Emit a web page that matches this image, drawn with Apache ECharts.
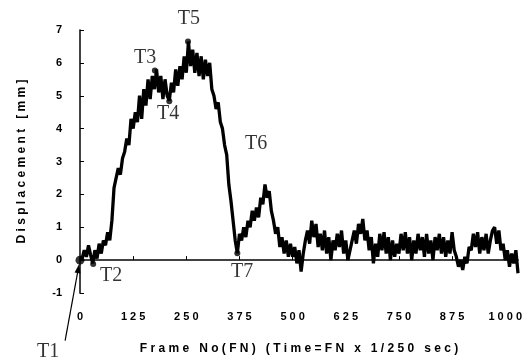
<!DOCTYPE html>
<html>
<head>
<meta charset="utf-8">
<script src="https://cdn.jsdelivr.net/npm/echarts@6/dist/echarts.min.js"></script>
<style>
  html, body { margin: 0; padding: 0; background: #fff; }
  #chart { width: 531px; height: 361px; }
</style>
</head>
<body>
<div id="chart"></div>
<script>
var frameStep = 5;
var displacement = [
  0, 0.05, 0.3, 0.1, 0.45, 0.15,
  -0.1, 0.3, 0.05, 0.5, 0.2, 0.6,
  0.45, 0.85, 0.6, 1.2,
  2.2, 2.5, 2.8, 2.6,
  3.1, 3.3, 3.7, 3.5,
  4.3, 4.0, 4.5, 4.2,
  5.0, 4.3, 5.2, 4.7,
  5.5, 4.9, 5.6, 5.2,
  5.8, 5.1, 5.6, 4.9,
  5.5, 5.0, 4.85, 5.4,
  5.1, 5.8, 5.3, 5.9,
  5.5, 6.2, 5.7, 6.65,
  5.9, 6.4, 5.7, 6.3,
  5.6, 6.2, 5.5, 6.1,
  5.6, 6.0, 5.2, 5.0,
  4.6, 4.8, 4.2, 4.0,
  3.5, 3.2, 2.3, 1.8,
  1.2, 0.6, 0.21, 0.8,
  0.6, 1.0, 0.7, 1.2,
  1.0, 1.5, 1.2, 1.6,
  1.3, 1.9, 1.7, 2.3,
  1.9, 2.1, 1.5, 1.2,
  0.8, 1.0, 0.4, 0.7,
  0.2, 0.6, 0.1, 0.5,
  0.1, 0.4, -0.1, 0.3,
  -0.35, 0.2, 0.6, 0.9,
  0.5, 1.2, 0.7, 1.1,
  0.4, 0.8, 0.3, 0.9,
  0.2, 0.7, 0.0, 0.6,
  0.3, 0.8, 0.4, 0.9,
  0.2, 0.6, 0.0, 0.3,
  0.6, 0.9, 0.5, 1.1,
  0.8, 1.25, 0.6, 0.9,
  0.3, 0.7, -0.1, 0.5,
  0.1, 0.8, 0.3, 0.85,
  0.2, 0.7, 0.0, 0.6,
  0.1, 0.5, 0.2, 0.8,
  0.3, 0.85, 0.2, 0.7,
  0.0, 0.6, 0.2, 0.8,
  0.3, 0.7, 0.1, 0.8,
  0.2, 0.6, 0.0, 0.7,
  0.3, 0.8, 0.2, 0.7,
  0.1, 0.6, 0.2, 0.85,
  0.3, 0.1, -0.2, 0.0,
  -0.3, 0.1, -0.1, 0.4,
  0.3, 0.8, 0.4, 0.85,
  0.2, 0.7, 0.3, 0.8,
  0.2, 0.6, 0.9, 1.0,
  0.5, 0.9, 0.3, 0.5,
  0.0, 0.3, -0.2, 0.2,
  -0.1, 0.3, -0.4
];

// event points (dots)
var markerNames = ["T1", "T2", "T3", "T4", "T5", "T7"];
var markerFrames = [0, 31, 176, 210, 254, 370];
var markerValues = [0, -0.12, 5.77, 4.83, 6.65, 0.21];

// where the T labels sit (data coords)
var tagNames = ["T1", "T2", "T3", "T4", "T5", "T6", "T7"];
var tagFrames = [-75, 73, 153, 207, 256, 414, 381];
var tagValues = [-2.8, -0.49, 6.17, 4.44, 7.35, 3.53, -0.36];

// arrow from the T1 label to the first point
var arrowFrom = [-35, -2.45];
var arrowTo = [-2, -0.12];

var xName = "Frame No(FN) (Time=FN x 1/250 sec)";
var yName = "Displacement [mm]";

function spaced(s) {
  return String(s).split("").join(" ");
}

var lineData = displacement.map(function (v, i) {
  return [i * frameStep, v];
});
var markerData = markerNames.map(function (n, i) {
  return { name: n, value: [markerFrames[i], markerValues[i]], symbolSize: i === 0 ? 9 : 6 };
});
var tagData = tagNames.map(function (n, i) {
  return { name: n, value: [tagFrames[i], tagValues[i]] };
});

var axisFont = { color: "#000", fontFamily: "Liberation Sans", fontWeight: "bold", fontSize: 11 };
var nameFont = { color: "#000", fontFamily: "Liberation Sans", fontWeight: "bold", fontSize: 12 };

var myChart = echarts.init(document.getElementById("chart"));
var option = {
  animation: false,
  backgroundColor: "#fff",
  grid: { left: 80, top: 30, right: 13, bottom: 68 },
  xAxis: [
    {
      type: "value",
      min: 0,
      max: 1030,
      interval: 125,
      name: spaced(xName),
      nameLocation: "middle",
      nameGap: 50,
      nameTextStyle: nameFont,
      axisLine: { lineStyle: { color: "#000", width: 1.5 } },
      axisTick: { inside: true, length: 4, lineStyle: { color: "#000" } },
      axisLabel: Object.assign({ margin: 18, showMaxLabel: false, formatter: function (v) { return spaced(v); } }, axisFont),
      splitLine: { show: false }
    },
    {
      type: "value", position: "top", min: 0, max: 1030,
      axisLine: { show: true, lineStyle: { color: "#444", type: "dotted", width: 1.5 } },
      axisTick: { show: false }, axisLabel: { show: false }, splitLine: { show: false }
    }
  ],
  yAxis: [
    {
      type: "value",
      min: -1,
      max: 7,
      interval: 1,
      name: spaced(yName),
      nameLocation: "middle",
      nameGap: 52,
      nameTextStyle: nameFont,
      axisLine: { show: true, lineStyle: { color: "#000", width: 1.5 } },
      axisTick: { show: true, inside: true, length: 4, lineStyle: { color: "#000" } },
      axisLabel: Object.assign({ margin: 18 }, axisFont),
      splitLine: { show: false }
    },
    {
      type: "value", position: "right", min: -1, max: 7,
      axisLine: { show: true, lineStyle: { color: "#444", type: "dotted", width: 1.5 } },
      axisTick: { show: false }, axisLabel: { show: false }, splitLine: { show: false }
    }
  ],
  series: [
    {
      type: "line",
      data: lineData,
      symbol: "none",
      lineStyle: { color: "#000", width: 3.3, join: "bevel" },
      z: 3
    },
    {
      type: "scatter",
      data: markerData,
      symbol: "circle",
      itemStyle: { color: "#000" },
      clip: false,
      z: 4
    },
    {
      type: "scatter",
      data: tagData,
      symbolSize: 0,
      clip: false,
      z: 5,
      label: {
        show: true,
        position: "inside",
        formatter: "{b}",
        color: "#000",
        fontFamily: "Liberation Serif",
        fontSize: 20
      }
    }
  ]
};
myChart.setOption(option);

// T1 pointer, placed through the axis scales
var p0 = myChart.convertToPixel({ gridIndex: 0 }, arrowFrom);
var p1 = myChart.convertToPixel({ gridIndex: 0 }, arrowTo);
var ang = Math.atan2(p1[1] - p0[1], p1[0] - p0[0]);
var headLen = 9, headW = 3;
var bx = p1[0] - headLen * Math.cos(ang), by = p1[1] - headLen * Math.sin(ang);
myChart.setOption({
  graphic: [
    { type: "line", shape: { x1: p0[0], y1: p0[1], x2: bx, y2: by }, style: { stroke: "#000", lineWidth: 1.2 }, z: 10 },
    {
      type: "polygon",
      shape: {
        points: [
          [p1[0], p1[1]],
          [bx + headW * Math.sin(ang), by - headW * Math.cos(ang)],
          [bx - headW * Math.sin(ang), by + headW * Math.cos(ang)]
        ]
      },
      style: { fill: "#000" },
      z: 10
    }
  ]
});
</script>
</body>
</html>
